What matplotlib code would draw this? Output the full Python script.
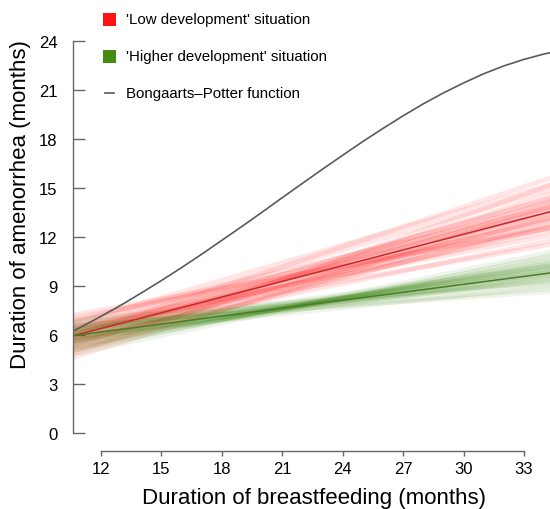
import numpy as np
import matplotlib
matplotlib.use("Agg")
import matplotlib.pyplot as plt
from matplotlib.patches import Rectangle
from matplotlib.lines import Line2D

# ---------------------------------------
# Data
# ---------------------------------------

# Bongaarts-Potter curve, amenorrhea vs breastfeeding months
bf_months = [10, 11, 12, 13, 14, 15, 16, 17, 18, 19, 20, 21, 22,
             23, 24, 25, 26, 27, 28, 29, 30, 31, 32, 33, 34, 35]
bp_amenorrhea = [5.87, 6.49, 7.15, 7.84, 8.58, 9.34, 10.13, 10.95, 11.80,
                 12.65, 13.52, 14.41, 15.28, 16.15, 17.00, 17.84, 18.64,
                 19.41, 20.14, 20.81, 21.42, 21.98, 22.46, 22.86, 23.19, 23.43]

# end points of the fitted lines
line_x = [10, 36]
red_mean = [5.77, 14.09]
green_mean = [5.87, 10.08]

# posterior draws: value at x=10 and at x=36
red_start = [5.9, 5.4, 6.3, 5.1, 6.6, 5.7, 4.6, 6.1, 5.3, 6.9, 5.8, 5.0, 6.4, 5.5, 6.0,
             4.9, 6.7, 5.6, 6.2, 5.2, 7.1, 5.9, 4.4, 6.5, 5.4, 6.0, 5.7, 4.8, 6.3, 5.6]
red_end = [13.2, 14.8, 13.5, 15.3, 13.9, 14.4, 15.9, 12.8, 14.1, 13.0, 15.0, 14.6, 12.5, 13.7, 14.9,
           13.4, 14.3, 12.2, 15.5, 14.0, 12.9, 13.6, 14.5, 15.8, 13.1, 14.2, 16.3, 13.8, 11.9, 14.7]

green_start = [5.9, 6.4, 5.5, 6.1, 5.2, 6.7, 5.7, 6.2, 5.0, 6.0, 5.6, 6.5, 5.3, 5.8, 6.3,
               4.9, 6.0, 5.4, 6.6, 5.8, 5.1, 6.2, 5.6, 6.9, 5.5, 6.1, 4.7, 5.9, 6.3, 5.7]
green_end = [10.3, 9.6, 10.7, 9.9, 10.9, 9.3, 10.2, 10.5, 11.2, 9.8, 10.4, 9.0, 10.8, 10.0, 9.5,
             11.5, 10.1, 10.6, 8.8, 9.7, 11.0, 10.3, 9.9, 9.4, 10.6, 10.2, 11.3, 9.2, 10.0, 10.5]

x_ticks = [12, 15, 18, 21, 24, 27, 30, 33]
y_ticks = [0, 3, 6, 9, 12, 15, 18, 21, 24]

legend_labels = ["'Low development' situation",
                 "'Higher development' situation",
                 "Bongaarts\u2013Potter function"]

# ---------------------------------------
# Figure
# ---------------------------------------

plt.rcParams["font.family"] = ["Liberation Sans", "DejaVu Sans"]

W, H = 550, 510
fig = plt.figure(figsize=(W / 100, H / 100), dpi=100)
ax = fig.add_axes([72.7 / W, 1 - 451.5 / H, 1 - 72.7 / W, 451.5 / H])

for s, e in zip(red_start, red_end):
    ax.plot(line_x, [s, e], color="#ff1a1a", alpha=0.11, lw=3.4, solid_capstyle="butt")

for s, e in zip(green_start, green_end):
    ax.plot(line_x, [s, e], color="#3f8a14", alpha=0.085, lw=3.2, solid_capstyle="butt")

ax.plot(line_x, red_mean, color="#c42a2a", lw=1.1)
ax.plot(line_x, green_mean, color="#4a7a2c", lw=1.1)
ax.plot(bf_months, bp_amenorrhea, color="#5a5a5a", lw=1.2)

ax.set_xlim(10.595, 34.29)
ax.set_ylim(-1.05, 26.55)

# R-style axes
for side in ["top", "right"]:
    ax.spines[side].set_visible(False)
ax.spines["left"].set_bounds(0, 24)
ax.spines["bottom"].set_bounds(12, 33)
for side in ["left", "bottom"]:
    ax.spines[side].set_color("#666666")
    ax.spines[side].set_linewidth(1.0)

ax.set_xticks(x_ticks)
ax.set_yticks(y_ticks)
ax.tick_params(axis="y", direction="in", length=8.6, width=1.0, color="#666666",
               labelsize=12, pad=11)
ax.tick_params(axis="x", direction="out", length=3.6, width=1.0, color="#666666",
               labelsize=12, pad=4)
ax.patch.set_visible(False)

fig.text(313.5 / W, 1 - 498.3 / H, "Duration of breastfeeding (months)",
         ha="center", va="center", fontsize=16)
fig.text(21 / W, 1 - 205 / H, "Duration of amenorrhea (months)",
         ha="center", va="center", rotation=90, fontsize=16)

# ---------------------------------------
# Legend (drawn by hand)
# ---------------------------------------

rows_y = [20, 57, 94.3]
fig.add_artist(Rectangle((102.5 / W, 1 - (rows_y[0] + 6.5) / H), 13 / W, 13 / H,
                         transform=fig.transFigure, color="#ff1414", lw=0))
fig.add_artist(Rectangle((102.5 / W, 1 - (rows_y[1] + 6.5) / H), 13 / W, 13 / H,
                         transform=fig.transFigure, color="#458b12", lw=0))
fig.add_artist(Line2D([105 / W, 113.5 / W], [1 - rows_y[2] / H, 1 - rows_y[2] / H],
                      transform=fig.transFigure, color="#5a5a5a", lw=1.2))

for label, yy in zip(legend_labels, rows_y):
    fig.text(126.5 / W, 1 - yy / H, label, ha="left", va="center", fontsize=10.8)

fig.savefig("out.png", dpi=100)
